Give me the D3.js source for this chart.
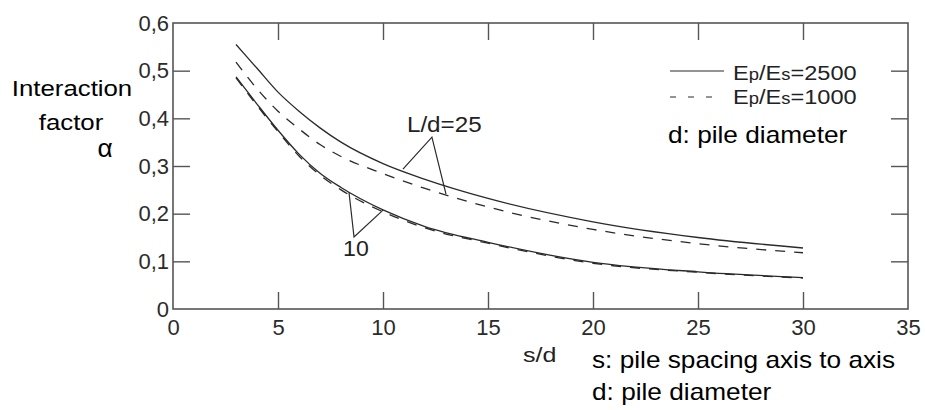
<!DOCTYPE html>
<html>
<head>
<meta charset="utf-8">
<script src="https://cdn.jsdelivr.net/npm/d3@7"></script>
<style>
  html, body { margin: 0; padding: 0; background: #fff; }
  svg { display: block; }
</style>
</head>
<body>
<div id="chart"></div>
<script>
const sd = [3, 4, 5, 6, 7, 8, 10, 12, 15, 20, 25, 30]

// interaction factor alpha for each case
const alphaL25E2500 = [0.555, 0.505, 0.455, 0.415, 0.38, 0.35, 0.305, 0.272, 0.232, 0.183, 0.150, 0.128]
const alphaL25E1000 = [0.518, 0.462, 0.415, 0.378, 0.345, 0.32, 0.284, 0.253, 0.214, 0.167, 0.137, 0.118]
const alphaL10E2500 = [0.487, 0.43, 0.375, 0.325, 0.285, 0.255, 0.208, 0.173, 0.14, 0.098, 0.078, 0.066]
const alphaL10E1000 = [0.485, 0.427, 0.372, 0.321, 0.281, 0.25, 0.204, 0.17, 0.138, 0.096, 0.077, 0.065]

// ticks
const xTicks = [0, 5, 10, 15, 20, 25, 30, 35]
const xTickLabels = ['0', '5', '10', '15', '20', '25', '30', '35']
const yTicks = [0, 0.1, 0.2, 0.3, 0.4, 0.5, 0.6]
const yTickLabels = ['0', '0,1', '0,2', '0,3', '0,4', '0,5', '0,6']

// leader lines for the L/d labels, in data units [s/d, alpha]
const leader25 = [[10.95, 0.2935], [12.33, 0.3606], [13.0, 0.241]]
const leader10 = [[8.38, 0.245], [8.62, 0.151], [10.0, 0.2075]]
const label25Pos = [11.14, 0.371]
const label10Pos = [8.1, 0.111]

const width = 925
const height = 410
const margin = { left: 173, right: 17, top: 23, bottom: 101 }

const svg = d3.select('#chart')
  .append('svg')
  .attr('width', width)
  .attr('height', height)

const x = d3.scaleLinear()
  .domain([0, 35])
  .range([margin.left, width - margin.right])

const y = d3.scaleLinear()
  .domain([0, 0.6])
  .range([height - margin.bottom, margin.top])

const axisColor = '#555'
const lineColor = '#2a2a2a'
const tickLen = 17

// helper: text with a little horizontal stretch like the scanned figure
function label(txt, px, py, size, sx, anchor, fill) {
  return svg.append('text')
    .attr('transform', `translate(${px},${py}) scale(${sx},1)`)
    .attr('text-anchor', anchor || 'start')
    .attr('font-family', '"Liberation Sans", Arial, sans-serif')
    .attr('font-size', size + 'px')
    .attr('fill', fill || '#000')
    .text(txt)
}

// Axes (ticks point inward)
const fmtX = d => xTickLabels[xTicks.indexOf(d)]
const fmtY = d => yTickLabels[yTicks.indexOf(d)]

const gx = svg.append('g')
  .attr('transform', `translate(0,${y(0)})`)
  .call(d3.axisBottom(x).tickValues(xTicks).tickFormat(fmtX)
    .tickSizeInner(-tickLen).tickSizeOuter(0).tickPadding(10))

const gy = svg.append('g')
  .attr('transform', `translate(${x(0)},0)`)
  .call(d3.axisLeft(y).tickValues(yTicks).tickFormat(fmtY)
    .tickSizeInner(-tickLen).tickSizeOuter(0).tickPadding(4))

const gTop = svg.append('g')
  .attr('transform', `translate(0,${y(0.6)})`)
  .call(d3.axisTop(x).tickValues(xTicks.slice(1, -1)).tickFormat('')
    .tickSizeInner(-tickLen).tickSizeOuter(0))

const gRight = svg.append('g')
  .attr('transform', `translate(${x(35)},0)`)
  .call(d3.axisRight(y).tickValues(yTicks.slice(1, -1)).tickFormat('')
    .tickSizeInner(-tickLen).tickSizeOuter(0))

;[gx, gy, gTop, gRight].forEach(g => {
  g.select('.domain').remove()
  g.selectAll('.tick line').attr('stroke', axisColor).attr('stroke-width', 1.4)
  g.selectAll('.tick text')
    .attr('font-family', '"Liberation Sans", Arial, sans-serif')
    .attr('font-size', '22px')
    .attr('fill', '#2b2b2b')
})
// remove the ticks that sit on the frame
gx.selectAll('.tick line').filter(d => d === 0 || d === 35).remove()
gy.selectAll('.tick line').filter(d => d === 0 || d === 0.6).remove()

// Frame
svg.append('rect')
  .attr('x', x(0))
  .attr('y', y(0.6))
  .attr('width', x(35) - x(0))
  .attr('height', y(0) - y(0.6))
  .attr('fill', 'none')
  .attr('stroke', axisColor)
  .attr('stroke-width', 1.6)

// Curves
const line = d3.line()
  .x(d => x(d[0]))
  .y(d => y(d[1]))
  .curve(d3.curveMonotoneX)

const series = [
  { values: alphaL10E1000, dash: '10,9' },
  { values: alphaL10E2500, dash: null },
  { values: alphaL25E1000, dash: '10,9' },
  { values: alphaL25E2500, dash: null }
]

series.forEach(s => {
  svg.append('path')
    .datum(sd.map((v, i) => [v, s.values[i]]))
    .attr('d', line)
    .attr('fill', 'none')
    .attr('stroke', lineColor)
    .attr('stroke-width', 1.3)
    .attr('stroke-dasharray', s.dash)
})

// Leader lines
const leaderLine = d3.line().x(d => x(d[0])).y(d => y(d[1]))
;[leader25, leader10].forEach(pts => {
  svg.append('path')
    .attr('d', leaderLine(pts))
    .attr('fill', 'none')
    .attr('stroke', lineColor)
    .attr('stroke-width', 1.2)
})

label('L/d=25', x(label25Pos[0]), y(label25Pos[1]), 22, 1.1, 'start', '#222')
label('10', x(label10Pos[0]), y(label10Pos[1]), 22, 1.05, 'start', '#222')

// Legend
const legend = svg.append('g')
legend.append('line')
  .attr('x1', 670).attr('x2', 724).attr('y1', 71).attr('y2', 71)
  .attr('stroke', lineColor).attr('stroke-width', 1.2)
legend.append('line')
  .attr('x1', 670).attr('x2', 724).attr('y1', 97).attr('y2', 97)
  .attr('stroke', lineColor).attr('stroke-width', 1.2)
  .attr('stroke-dasharray', '6,12')

function legendText(val, py) {
  const t = label('', 733, py, 20.5, 1.15, 'start', '#222')
  t.append('tspan').text('E')
  t.append('tspan').attr('font-size', '16px').text('p')
  t.append('tspan').text('/E')
  t.append('tspan').attr('font-size', '16px').text('s')
  t.append('tspan').text('=' + val)
}
legendText('2500', 80)
legendText('1000', 104)

// Annotations
label('d: pile diameter', 668, 143, 23, 1.14)
label('Interaction', 72, 96, 21.5, 1.2, 'middle')
label('factor', 71, 130, 21.5, 1.2, 'middle')
label('α', 105, 157, 25, 1.05, 'middle')
label('s/d', 523, 362, 20, 1.25, 'start', '#222')
label('s: pile spacing axis to axis', 592, 368, 23, 1.14)
label('d: pile diameter', 592, 400, 23, 1.14)
</script>
</body>
</html>
